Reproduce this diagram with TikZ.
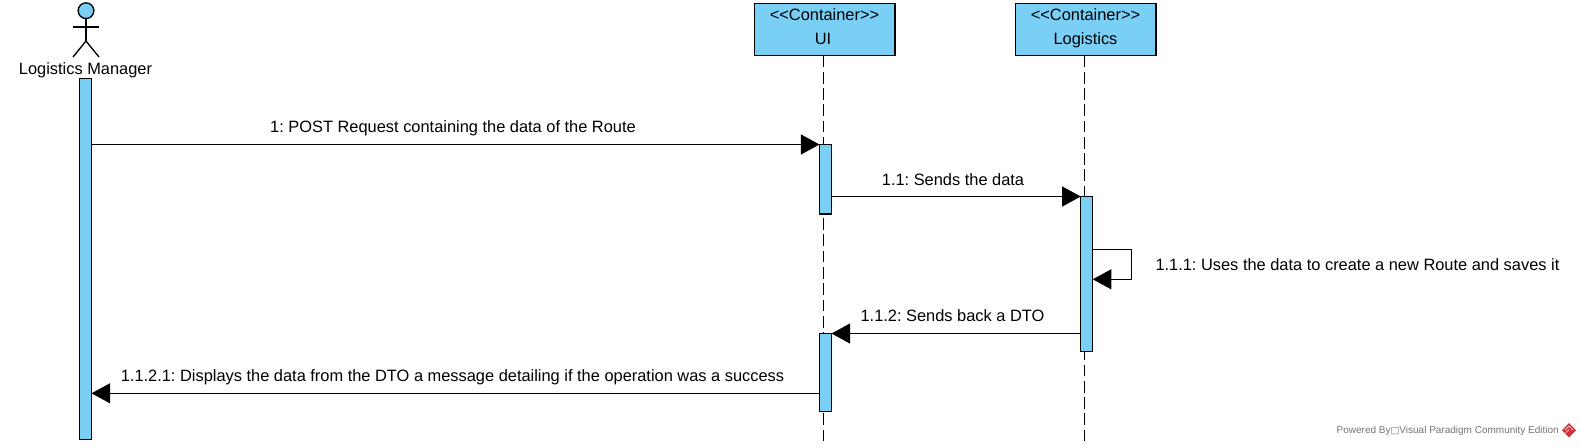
\documentclass[tikz,border=0pt]{standalone}
\usepackage{fontspec}
\setmainfont{Liberation Sans}
\newfontfamily\boxfont{DejaVu Sans}
\usetikzlibrary{arrows.meta}
\definecolor{vpblue}{HTML}{7ACFF5}
\definecolor{vpred}{HTML}{D2343C}
\tikzset{
  x=0.75pt,y=-0.75pt,
  every node/.style={inner sep=0pt,outer sep=0pt},
  objbox/.style={draw=black,fill=vpblue,line width=1pt,minimum width=105.4pt,minimum height=39pt,anchor=north west},
  actbar/.style={draw=black,fill=vpblue,line width=1pt,minimum width=9pt,anchor=north west},
  lifeline/.style={draw=black,line width=1pt,dash pattern=on 8.8pt off 3.4pt},
  msg/.style={draw=black,line width=1pt,-{Triangle[width=15pt,length=14pt]}},
  lbl/.style={font=\fontsize{12.3pt}{14pt}\selectfont\frenchspacing,anchor=base},
  actorline/.style={draw=black,line width=1pt},
}
\begin{document}
\begin{tikzpicture}
\useasboundingbox (0,0) rectangle (1581,447);
% objects
\node[objbox,align=center] (ui) at (754.5,3.5) {};
\node[objbox] (log) at (1015.5,3.5) {};
\node[lbl] (uist) at (824.5,20.5) {<{}<Container>{}>};
\node[lbl] (uiname) at (823,44) {UI};
\node[lbl] (logst) at (1085.5,20.5) {<{}<Container>{}>};
\node[lbl] (logname) at (1085.5,44) {Logistics};
% lifelines
\coordinate (lifeend) at (0,441.5);
\coordinate (uitop) at (823.3,55.5);
\coordinate (logtop) at (1084.3,55.5);
\draw[lifeline] (uitop) -- (uitop |- lifeend);
\draw[lifeline] (logtop) -- (logtop |- lifeend);
% actor
\node[draw=black,fill=vpblue,line width=1pt,circle,minimum size=11.8pt] (head) at (86,10.7) {};
\coordinate (hip) at (86,41);
\coordinate (larm) at (73,27);
\coordinate (rarm) at (99,27);
\coordinate (lleg) at (73,57);
\coordinate (rleg) at (99,57);
\draw[actorline] (head.south) -- (hip);
\draw[actorline] (larm) -- (rarm);
\draw[actorline] (lleg) -- (hip) -- (rleg);
\node[lbl] (mgrname) at (85.5,74.5) {Logistics Manager};
% activations
\node[actbar,minimum height=270.5pt] (mgr) at (79.5,78.5) {};
\node[actbar,minimum height=52pt] (ui1) at (819.5,144.5) {};
\node[actbar,minimum height=116pt] (log1) at (1080.7,196.5) {};
\node[actbar,minimum height=58.5pt] (ui2) at (819.5,333.5) {};
% messages
\draw[msg] (mgr.east |- ui1.north) -- (ui1.north west);
\draw[msg] (ui1.east |- log1.north) -- (log1.north west);
\coordinate (selfa) at (1131.5,249.3);
\coordinate (selfb) at (1131.5,279.3);
\draw[msg] (log1.east |- selfa) -- (selfa) -- (selfb) -- (log1.east |- selfb);
\draw[msg] (log1.west |- ui2.north) -- (ui2.north east);
\coordinate (backy) at (0,393.3);
\draw[msg] (ui2.west |- backy) -- (mgr.east |- backy);
% labels
\node[lbl] (l1) at (453,132) {1: POST Request containing the data of the Route};
\node[lbl] (l2) at (953,185.5) {1.1: Sends the data};
\node[lbl,anchor=base west] (l3) at (1155.5,270) {1.1.1: Uses the data to create a new Route and saves it};
\node[lbl] (l4) at (952.5,321) {1.1.2: Sends back a DTO};
\node[lbl] (l5) at (452.5,381) {1.1.2.1: Displays the data from the DTO a message detailing if the operation was a success};
% watermark
\node[anchor=base west,text=black!55,font=\fontsize{7.5pt}{9pt}\selectfont] (wm) at (1336.7,433.5) {Powered By{\boxfont\fontsize{7pt}{8pt}\selectfont □}Visual Paradigm Community Edition};
\fill[vpred] (1569,423) -- (1576,430.3) -- (1569,437.5) -- (1562,430.3) -- cycle;
\draw[white,line width=0.5pt] (1565,430) -- (1569,426) -- (1573,430);
\draw[white,line width=0.5pt] (1565.5,433) -- (1569,429.5);
\end{tikzpicture}
\end{document}
